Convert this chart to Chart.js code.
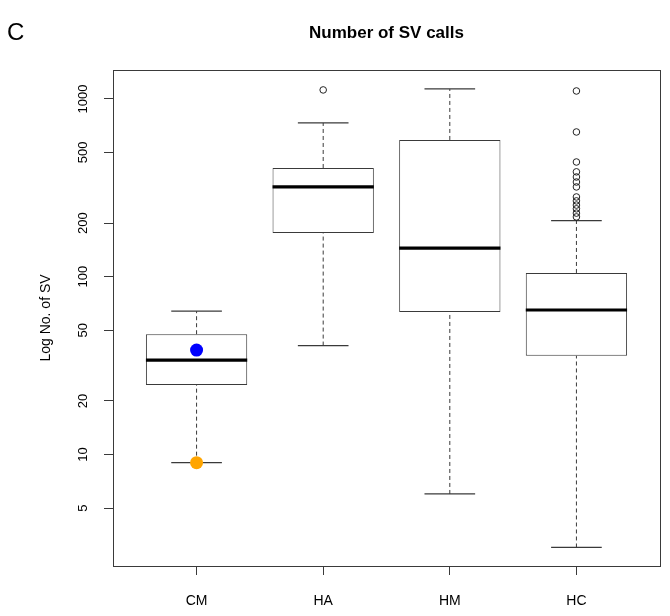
<!DOCTYPE html>
<html>
<head>
<meta charset="utf-8">
<script src="https://cdn.jsdelivr.net/npm/chart.js@4.4.1/dist/chart.umd.min.js"></script>
<style>
  html, body { margin: 0; padding: 0; background: #fff; }
  canvas { display: block; }
</style>
</head>
<body>
<canvas id="grafico" width="670" height="616"></canvas>
<script>
// boxplot stats (log scale)
const categorias = ['CM', 'HA', 'HM', 'HC'];
const whiskerBaixo = [9, 41, 6, 3];
const q1 = [24.6, 176, 63.4, 35.9];
const mediana = [34, 320, 145, 65];
const q3 = [47.5, 409, 588, 105];
const whiskerAlto = [64, 733, 1138, 207];

const outliersHA = [1124];
const outliersHC = [1109, 652, 442, 389, 364, 341, 320, 281, 267, 253, 241, 228, 217];

const pontoAzul = 38.7;   // CM highlight
const pontoLaranja = 9.0; // CM highlight

const yTicks = [5, 10, 20, 50, 100, 200, 500, 1000];
const yMin = 2.36, yMax = 1455;

const corLinha = '#3a3a3a';

// half width in px of something that is w units wide on the x scale
function meiaLargura(ctx, w) {
    const s = ctx.chart.scales.x;
    return (s.getPixelForValue(1 + w / 2) - s.getPixelForValue(1));
}

const whiskerPts = [];
categorias.forEach((c, i) => {
    whiskerPts.push({ x: i + 1, y: whiskerBaixo[i] }, { x: i + 1, y: q1[i] }, { x: i + 1, y: null });
    whiskerPts.push({ x: i + 1, y: q3[i] }, { x: i + 1, y: whiskerAlto[i] }, { x: i + 1, y: null });
});

const staplePts = [];
categorias.forEach((c, i) => {
    staplePts.push({ x: i + 1, y: whiskerBaixo[i] }, { x: i + 1, y: whiskerAlto[i] });
});

const outlierPts = outliersHA.map(v => ({ x: 2, y: v }))
    .concat(outliersHC.map(v => ({ x: 4, y: v })));

// frame + panel letter
const extras = {
    id: 'extras',
    afterDraw(chart) {
        const { ctx, chartArea: a } = chart;
        ctx.save();
        ctx.strokeStyle = corLinha;
        ctx.lineWidth = 1;
        ctx.strokeRect(Math.round(a.left) + 0.5, Math.round(a.top) + 0.5,
            Math.round(a.right - a.left), Math.round(a.bottom - a.top));
        ctx.fillStyle = '#000';
        ctx.font = '24px "Liberation Sans", Arial, sans-serif';
        ctx.textBaseline = 'middle';
        ctx.textAlign = 'left';
        ctx.fillText('C', 7, 33);
        ctx.restore();
    }
};

const ctx = document.getElementById('grafico').getContext('2d');

new Chart(ctx, {
    type: 'bar',
    data: {
        datasets: [
            {
                type: 'bar',
                data: categorias.map((c, i) => ({ x: i + 1, y: [q1[i], q3[i]] })),
                backgroundColor: '#ffffff',
                borderColor: corLinha,
                borderWidth: 1,
                borderSkipped: false,
                barPercentage: 0.8,
                categoryPercentage: 1,
                grouped: false,
                order: 5
            },
            {
                type: 'line',
                data: whiskerPts,
                borderColor: corLinha,
                borderWidth: 1,
                borderDash: [4, 3],
                pointRadius: 0,
                spanGaps: false,
                fill: false,
                order: 6
            },
            {
                type: 'scatter',
                data: staplePts,
                pointStyle: 'line',
                pointRadius: c => meiaLargura(c, 0.4),
                borderColor: corLinha,
                pointBorderWidth: 1.2,
                order: 4
            },
            {
                type: 'scatter',
                data: categorias.map((c, i) => ({ x: i + 1, y: mediana[i] })),
                pointStyle: 'line',
                pointRadius: c => meiaLargura(c, 0.8),
                borderColor: '#000',
                pointBorderWidth: 3.2,
                order: 3
            },
            {
                type: 'scatter',
                data: outlierPts,
                pointStyle: 'circle',
                pointRadius: 3.3,
                borderColor: '#222',
                backgroundColor: 'rgba(255,255,255,0)',
                pointBorderWidth: 1,
                order: 2
            },
            {
                type: 'scatter',
                data: [{ x: 1, y: pontoAzul }],
                pointRadius: 6.5,
                backgroundColor: '#0000ff',
                borderColor: '#0000ff',
                pointBorderWidth: 0,
                order: 1
            },
            {
                type: 'scatter',
                data: [{ x: 1, y: pontoLaranja }],
                pointRadius: 6.5,
                backgroundColor: '#ffa500',
                borderColor: '#ffa500',
                pointBorderWidth: 0,
                order: 1
            }
        ]
    },
    options: {
        responsive: false,
        animation: false,
        events: [],
        layout: { padding: { left: 0, right: 10, top: 0, bottom: 0 } },
        plugins: {
            legend: { display: false },
            tooltip: { enabled: false },
            title: {
                display: true,
                text: 'Number of SV calls',
                fullSize: false,
                color: '#000',
                font: { family: '"Liberation Sans", Arial, sans-serif', size: 17, weight: 'bold', lineHeight: 1.2 },
                padding: { top: 22.8, bottom: 26.8 }
            }
        },
        scales: {
            x: {
                type: 'linear',
                min: 0.34,
                max: 4.66,
                offset: false,
                afterBuildTicks: s => { s.ticks = categorias.map((c, i) => ({ value: i + 1 })); },
                afterFit: s => { s.height = 50; },
                border: { display: false },
                grid: { offset: false, drawOnChartArea: false, drawTicks: true, tickLength: 9, color: corLinha },
                ticks: {
                    callback: v => categorias[v - 1],
                    color: '#000',
                    padding: 18,
                    maxRotation: 0,
                    autoSkip: false,
                    font: { family: '"Liberation Sans", Arial, sans-serif', size: 14 }
                }
            },
            y: {
                type: 'logarithmic',
                min: yMin,
                max: yMax,
                afterBuildTicks: s => { s.ticks = yTicks.map(v => ({ value: v })); },
                afterFit: s => { s.width = 113; },
                border: { display: false },
                grid: { drawOnChartArea: false, drawTicks: true, tickLength: 9, color: corLinha },
                ticks: {
                    callback: v => String(v),
                    color: '#000',
                    minRotation: 90,
                    maxRotation: 90,
                    crossAlign: 'center',
                    padding: 6,
                    autoSkip: false,
                    font: { family: '"Liberation Sans", Arial, sans-serif', size: 13 }
                },
                title: {
                    display: true,
                    text: 'Log No. of SV',
                    color: '#000',
                    font: { family: '"Liberation Sans", Arial, sans-serif', size: 14, lineHeight: 1.2 },
                    padding: { top: 37.6, bottom: 0 }
                }
            }
        }
    },
    plugins: [extras]
});
</script>
</body>
</html>
